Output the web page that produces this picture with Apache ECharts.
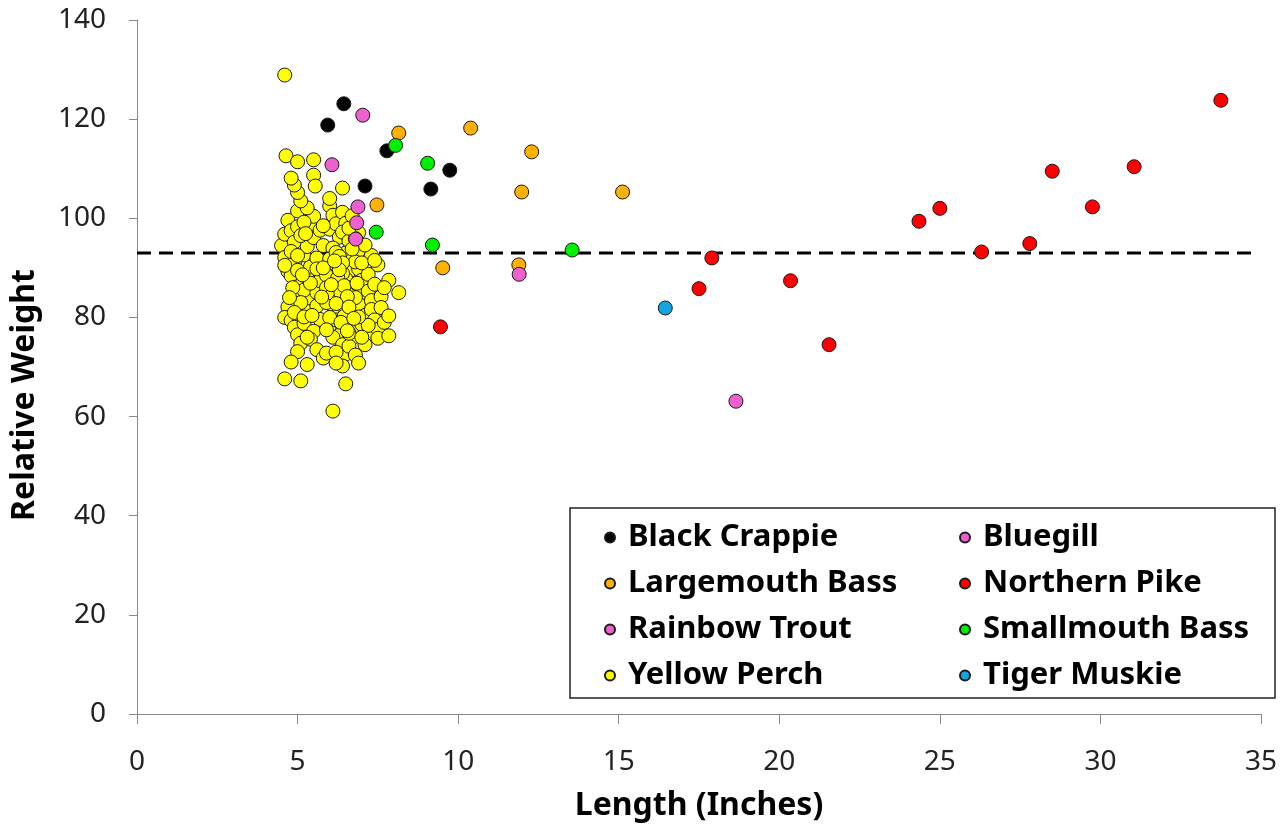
<!DOCTYPE html>
<html>
<head>
<meta charset="utf-8">
<script src="https://cdn.jsdelivr.net/npm/echarts@6/dist/echarts.min.js"></script>
<style>
  html, body { margin: 0; padding: 0; background: #fff; }
  #chart { width: 1281px; height: 827px; }
</style>
</head>
<body>
<div id="chart"></div>
<script>
// species data: [length (inches), relative weight]
const blackCrappie = [[5.94, 118.8], [6.44, 123.1], [7.78, 113.6], [7.1, 106.5], [9.15, 105.9], [9.74, 109.7]]
const bluegill = [[7.03, 120.8], [6.07, 110.8], [6.88, 102.3], [6.84, 99.1], [6.81, 95.8]]
const largemouthBass = [[8.15, 117.2], [10.39, 118.2], [12.29, 113.4], [7.47, 102.7], [11.98, 105.3], [15.12, 105.3], [9.52, 90.0], [11.89, 90.6]]
const northernPike = [[9.45, 78.1], [17.5, 85.8], [17.9, 92.0], [20.35, 87.4], [21.55, 74.5], [24.35, 99.4], [25.0, 102.0], [26.3, 93.2],
  [27.8, 94.9], [28.5, 109.5], [29.75, 102.3], [31.05, 110.4], [33.75, 123.8]]
const rainbowTrout = [[11.9, 88.7], [18.65, 63.1]]
const smallmouthBass = [[8.05, 114.7], [9.05, 111.1], [7.45, 97.2], [9.2, 94.6], [13.55, 93.6]]
const tigerMuskie = [[16.45, 81.9]]
const yellowPerch = [
  [4.5, 94.5], [4.6, 96.8], [4.6, 92.1], [4.7, 99.6], [4.7, 89.3], [4.8, 97.5], [4.8, 88.4], [4.9, 95.2], [4.9, 91.0], [5.0, 101.5],
  [5.0, 98.3], [5.0, 86.2], [4.9, 84.5], [4.7, 82.1], [4.6, 80.0], [4.8, 79.4], [4.9, 78.0], [5.0, 76.5], [5.1, 74.8], [5.0, 73.1],
  [4.8, 71.0], [4.6, 67.6], [5.1, 67.2], [5.3, 70.5], [5.2, 78.8], [5.3, 81.7], [5.4, 83.9], [5.2, 85.5], [5.3, 88.0], [5.4, 90.2],
  [5.2, 92.6], [5.3, 94.3], [5.5, 96.1], [5.4, 98.8], [5.5, 100.4], [5.3, 102.1], [5.1, 103.5], [5.0, 105.2], [4.9, 106.7], [4.8, 108.1],
  [4.64, 112.6], [5.0, 111.4], [5.5, 111.8], [5.5, 108.7], [5.55, 106.5], [4.6, 128.9], [5.6, 85.0], [5.6, 82.3], [5.7, 87.4], [5.7, 79.6],
  [5.5, 77.2], [5.4, 75.6], [5.6, 73.5], [5.8, 71.8], [5.9, 72.8], [5.6, 92.0], [5.8, 94.5], [5.7, 97.6], [5.6, 89.8], [5.1, 96.5],
  [5.2, 99.2], [4.8, 93.3], [4.6, 90.5], [5.0, 89.5], [5.1, 83.0], [4.9, 81.0], [5.2, 80.1], [5.3, 76.0], [5.0, 92.5], [5.4, 86.9],
  [6.0, 102.5], [6.1, 100.6], [6.0, 97.8], [6.2, 98.9], [6.3, 96.2], [6.1, 94.0], [6.0, 91.8], [6.2, 90.5], [6.1, 88.2], [6.3, 87.0],
  [6.2, 85.6], [6.0, 84.1], [6.1, 82.3], [6.3, 81.0], [6.2, 79.5], [6.4, 78.2], [6.3, 76.4], [6.1, 76.0], [6.4, 74.5], [6.5, 72.6],
  [6.4, 70.2], [6.5, 66.6], [6.1, 61.1], [6.4, 101.2], [6.5, 99.0], [6.4, 97.2], [6.6, 95.4], [6.5, 93.0], [6.7, 91.6], [6.6, 89.3],
  [6.5, 87.8], [6.7, 86.1], [6.6, 84.5], [6.5, 83.0], [6.7, 81.2], [6.6, 79.3], [6.8, 77.6], [6.7, 75.9], [6.6, 74.2], [6.8, 72.4],
  [6.9, 89.8], [6.9, 93.4], [6.9, 97.1], [6.8, 91.2], [7.0, 87.5], [7.0, 84.9], [6.9, 82.7], [7.1, 80.4], [7.0, 78.6], [7.2, 76.7],
  [7.1, 74.5], [7.2, 85.3], [7.3, 83.4], [7.2, 88.7], [7.4, 86.7], [7.3, 81.6], [7.4, 79.5], [7.5, 77.6], [7.5, 75.8], [7.6, 84.2],
  [7.5, 90.6], [7.3, 92.5], [7.1, 94.6], [7.6, 82.0], [7.7, 79.0], [7.84, 76.3], [7.84, 80.3], [7.84, 87.5], [8.15, 85.0], [7.7, 86.0],
  [6.4, 106.1], [5.9, 88.5], [5.9, 86.0], [6.0, 80.0], [6.2, 93.1], [6.8, 95.9], [6.3, 92.3], [6.6, 98.0], [7.0, 91.0], [5.9, 83.0],
  [5.8, 90.0], [6.2, 73.0], [6.9, 70.8], [6.6, 76.8], [7.2, 78.4], [6.1, 84.8], [6.5, 81.6], [6.4, 88.9], [6.8, 84.0], [6.3, 83.6],
  [7.0, 76.0], [5.9, 77.5], [6.2, 70.8], [5.8, 98.5], [6.0, 104.0], [6.7, 100.5], [7.4, 91.5], [6.9, 80.1], [6.4, 91.0], [6.7, 93.8],
  [6.25, 88.0], [6.35, 85.0], [6.45, 86.4], [6.3, 89.6], [6.55, 84.2], [6.2, 82.8], [6.45, 80.2], [6.6, 82.1], [6.35, 79.0], [6.55, 77.3],
  [6.75, 79.8], [6.85, 86.9], [6.15, 91.4], [6.05, 86.6], [5.75, 84.1], [5.45, 80.4], [5.15, 88.6], [4.85, 86.0], [4.75, 84.0], [5.25, 96.9]
]
// dashed reference line
const refLine = [[0, 93], [34.9, 93]]
const xTicks = [0, 35, 5]
const yTicks = [0, 140, 20]

const fontName = 'Noto Sans'

function scatter(name, data, color) {
  return {
    name: name,
    type: 'scatter',
    data: data,
    symbol: 'circle',
    symbolSize: 14,
    z: 3,
    itemStyle: {
      color: color,
      borderColor: '#1a1a1a',
      borderWidth: 1,
      opacity: 1
    }
  }
}

function legendCol(left, items) {
  return {
    orient: 'vertical',
    left: left,
    top: 517,
    itemWidth: 10,
    itemHeight: 10,
    itemGap: 15,
    icon: 'circle',
    data: items,
    selectedMode: false,
    textStyle: {
      fontFamily: fontName,
      fontSize: 31,
      fontWeight: 'bold',
      color: '#000',
      lineHeight: 31,
      padding: [0, 0, 0, 8]
    }
  }
}

const charts = echarts.init(document.getElementById('chart'))
charts.setOption({
  animation: false,
  backgroundColor: '#fff',
  grid: {
    left: 137,
    right: 20,
    top: 20,
    bottom: 113
  },
  xAxis: {
    type: 'value',
    min: xTicks[0],
    max: xTicks[1],
    interval: xTicks[2],
    name: 'Length (Inches)',
    nameLocation: 'middle',
    nameGap: 76,
    nameTextStyle: {
      fontFamily: fontName,
      fontSize: 32,
      fontWeight: 'bold',
      color: '#000'
    },
    axisLine: { show: true, lineStyle: { color: '#888', width: 1 } },
    axisTick: { show: true, length: 10, lineStyle: { color: '#888' } },
    axisLabel: {
      margin: 34,
      fontFamily: fontName,
      fontSize: 28,
      color: '#222'
    },
    splitLine: { show: false }
  },
  yAxis: {
    type: 'value',
    min: yTicks[0],
    max: yTicks[1],
    interval: yTicks[2],
    name: 'Relative Weight',
    nameLocation: 'middle',
    nameGap: 96,
    nameTextStyle: {
      fontFamily: fontName,
      fontSize: 32,
      fontWeight: 'bold',
      color: '#000',
      padding: [0, 56, 0, 0]
    },
    axisLine: { show: true, lineStyle: { color: '#888', width: 1 } },
    axisTick: { show: true, length: 8, lineStyle: { color: '#888' } },
    axisLabel: {
      margin: 31,
      fontFamily: fontName,
      fontSize: 28,
      color: '#222'
    },
    splitLine: { show: false }
  },
  legend: [
    legendCol(599, ['Black Crappie', 'Largemouth Bass', 'Rainbow Trout', 'Yellow Perch']),
    legendCol(954, ['Bluegill', 'Northern Pike', 'Smallmouth Bass', 'Tiger Muskie'])
  ],
  graphic: [
    {
      type: 'rect',
      shape: { x: 570, y: 508, width: 705, height: 190 },
      style: { fill: 'none', stroke: '#222', lineWidth: 1.5 },
      z: 1
    }
  ],
  series: [
    {
      name: 'ref',
      type: 'line',
      data: refLine,
      symbol: 'none',
      silent: true,
      z: 2,
      lineStyle: { color: '#000', width: 3, type: [14, 8] }
    },
    scatter('Yellow Perch', yellowPerch, '#FFFF00'),
    scatter('Black Crappie', blackCrappie, '#000000'),
    scatter('Bluegill', bluegill, '#EE5FCF'),
    scatter('Largemouth Bass', largemouthBass, '#FFB000'),
    scatter('Northern Pike', northernPike, '#FF0000'),
    scatter('Rainbow Trout', rainbowTrout, '#EE5FCF'),
    scatter('Smallmouth Bass', smallmouthBass, '#00EE00'),
    scatter('Tiger Muskie', tigerMuskie, '#12A5E0')
  ]
})
</script>
</body>
</html>
